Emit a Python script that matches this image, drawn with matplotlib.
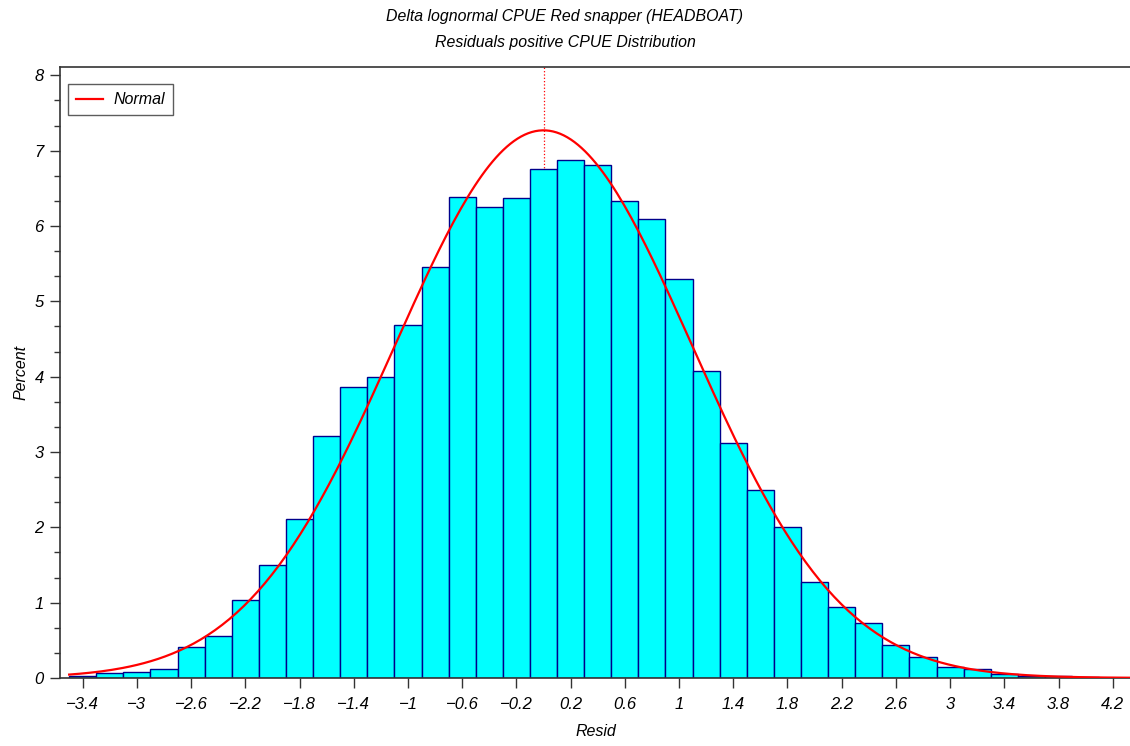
import numpy as np
import matplotlib
matplotlib.use("Agg")
from matplotlib import pyplot as plt
from matplotlib.ticker import MultipleLocator, FixedLocator, FuncFormatter

# histogram midpoints (bin width 0.2) and percent per bin
midpoints = [-3.4, -3.2, -3.0, -2.8, -2.6, -2.4, -2.2, -2.0, -1.8, -1.6,
             -1.4, -1.2, -1.0, -0.8, -0.6, -0.4, -0.2, 0.0, 0.2, 0.4,
             0.6, 0.8, 1.0, 1.2, 1.4, 1.6, 1.8, 2.0, 2.2, 2.4,
             2.6, 2.8, 3.0, 3.2, 3.4, 3.6, 3.8, 4.0, 4.2]
percent = [0.02, 0.06, 0.08, 0.12, 0.41, 0.56, 1.04, 1.50, 2.11, 3.21,
           3.86, 4.00, 4.69, 5.46, 6.39, 6.25, 6.37, 6.76, 6.87, 6.81,
           6.33, 6.09, 5.29, 4.08, 3.12, 2.49, 2.01, 1.27, 0.94, 0.73,
           0.44, 0.28, 0.15, 0.115, 0.05, 0.03, 0.02, 0.01, 0.005]
bin_width = 0.2

# fitted normal parameters
mu = 0.0
sigma = 1.0975

xticks = [-3.4, -3.0, -2.6, -2.2, -1.8, -1.4, -1.0, -0.6, -0.2, 0.2,
          0.6, 1.0, 1.4, 1.8, 2.2, 2.6, 3.0, 3.4, 3.8, 4.2]

plt.rcParams['font.family'] = ['Liberation Sans', 'DejaVu Sans']
plt.rcParams['font.style'] = 'italic'

fig = plt.figure(figsize=(11.3, 7.46), dpi=100)
ax = fig.add_axes([0.0534, 0.0912, 0.9486, 0.8186])

ax.axvline(mu, color='red', linestyle=':', linewidth=0.9, zorder=1)
ax.bar(midpoints, percent, width=bin_width, color='#00FFFF',
       edgecolor='#00008B', linewidth=1.0, zorder=2)

xs = np.linspace(-3.5, 4.35, 300)
pdf = 100 * bin_width / (sigma * np.sqrt(2 * np.pi)) * np.exp(-(xs - mu) ** 2 / (2 * sigma ** 2))
ax.plot(xs, pdf, color='red', linewidth=1.6, label='Normal', zorder=3)

ax.set_xlim(-3.565, 4.344)
ax.set_ylim(0, 8.107)
ax.xaxis.set_major_locator(FixedLocator(xticks))
ax.xaxis.set_major_formatter(FuncFormatter(lambda v, p: f"{v:g}".replace('-', '\u2212')))
ax.yaxis.set_major_locator(MultipleLocator(1))
ax.yaxis.set_minor_locator(MultipleLocator(1 / 3))
ax.tick_params(axis='both', which='major', direction='out', length=7, width=1,
               labelsize=12, color='#333333')
ax.tick_params(axis='y', which='minor', direction='out', length=4, width=1, color='#333333')
ax.tick_params(axis='x', pad=7)
ax.tick_params(axis='y', pad=5)

for s in ['left', 'top', 'bottom']:
    ax.spines[s].set_color('#333333')
    ax.spines[s].set_linewidth(1.2)
ax.spines['right'].set_visible(False)

ax.set_xlabel('Resid', fontsize=11.5, labelpad=8)
ax.set_ylabel('Percent', fontsize=11.5, labelpad=4)

leg = ax.legend(loc='upper left', fontsize=11.5, frameon=True, fancybox=False,
                handlelength=1.7, handletextpad=0.6, borderpad=0.5,
                bbox_to_anchor=(0.0, 0.985))
leg.get_frame().set_edgecolor('#333333')
leg.get_frame().set_linewidth(1.0)

fig.text(0.5, 0.978, 'Delta lognormal CPUE Red snapper (HEADBOAT)', ha='center',
         va='center', fontsize=11.4)
fig.text(0.5, 0.943, 'Residuals positive CPUE Distribution', ha='center',
         va='center', fontsize=11.4)

fig.savefig('out.png', dpi=100)
